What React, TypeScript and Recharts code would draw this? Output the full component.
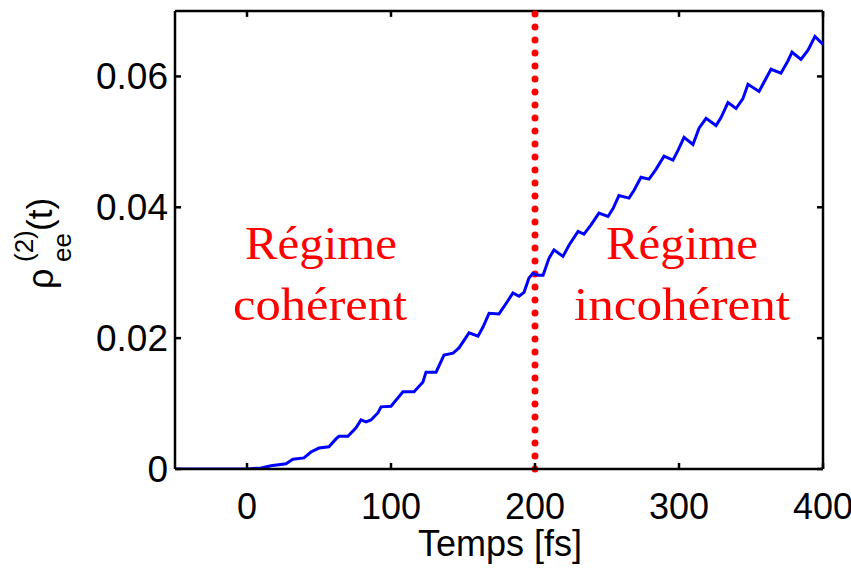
import { LineChart, Line, XAxis, YAxis, ReferenceLine, Customized } from 'recharts'

// temps (fs) et population rho_ee^(2)
const times = [
  -50, 0, 9.7, 16.7, 27.1, 31.9, 39.6, 44.4, 50, 56.9, 61.8, 63.9, 70.1, 75.7, 79.2, 82.6, 86.1,
  91, 93.1, 100, 108.3, 116, 122.2, 124.3, 131.3, 136.8, 143.1, 147.2, 154.2, 160.4, 163.9, 168.1,
  175, 179.9, 184.7, 188.9, 192.4, 195.8, 198.6, 202.1, 205.6, 209.7, 213.2, 219.4, 223.6, 229.9,
  234, 238.9, 244.4, 250.7, 254.2, 258.3, 265.3, 268.8, 273.6, 279.2, 284, 289.6, 295.8, 299.3,
  303.5, 309.7, 313.9, 318.8, 325.7, 329.2, 334, 339.6, 344.4, 347.9, 355.6, 359, 363.9, 370.8,
  375.7, 378.5, 384.7, 389.6, 394.4, 400,
]
const rho = [
  0, 0, 0.00015, 0.0005, 0.0008, 0.0015, 0.0017, 0.0026, 0.0032, 0.0034, 0.0046, 0.005, 0.005,
  0.0063, 0.0075, 0.0072, 0.0075, 0.0086, 0.0095, 0.0096, 0.0118, 0.0118, 0.0133, 0.0148, 0.0148,
  0.0174, 0.0177, 0.0185, 0.0208, 0.0203, 0.0217, 0.0238, 0.0237, 0.0253, 0.0269, 0.0264, 0.027,
  0.0292, 0.0299, 0.0296, 0.0296, 0.0322, 0.0335, 0.0325, 0.0342, 0.0363, 0.0359, 0.0373, 0.0391,
  0.0386, 0.0398, 0.0418, 0.0414, 0.0426, 0.0446, 0.0443, 0.0458, 0.0478, 0.0472, 0.0487, 0.0507,
  0.0496, 0.0521, 0.0536, 0.0525, 0.0537, 0.056, 0.0551, 0.0566, 0.0588, 0.0577, 0.0591, 0.0611,
  0.0605, 0.0624, 0.0637, 0.0626, 0.064, 0.0661, 0.0649,
]
const xTicks = [0, 100, 200, 300, 400]
const yTicks = [0, 0.02, 0.04, 0.06]
const yTickLabels = ['0', '0.02', '0.04', '0.06']
const regimeSplit = 200
const regimeLeft = ['Régime', 'cohérent']
const regimeRight = ['Régime', 'incohérent']

const X_MIN = -50
const X_MAX = 400
const Y_MAX = 0.07

const data = times.map((t, i) => ({ t, rho: rho[i] }))

const SANS = '"Liberation Sans", Arial, sans-serif'
const SERIF = '"Liberation Serif", "Times New Roman", serif'

// inward tick length (~6px) in data units
const TICK_DY = 0.0009
const TICK_DX = 4.2

const BottomTick = ({ x, y, payload }: any) => (
  <g>
    <line x1={x} y1={y} x2={x} y2={y - 6} stroke="#000" strokeWidth={2.5} />
    <text x={x} y={y + 50} textAnchor="middle" fontSize={36} fontFamily={SANS} fill="#000">
      {payload.value}
    </text>
  </g>
)

const LeftTick = ({ x, y, payload }: any) => (
  <g>
    <line x1={x} y1={y} x2={x + 6} y2={y} stroke="#000" strokeWidth={2.5} />
    <text x={x - 7} y={y + 13} textAnchor="end" fontSize={37} fontFamily={SANS} fill="#000">
      {yTickLabels[yTicks.indexOf(payload.value)]}
    </text>
  </g>
)

const Annotations = () => (
  <g>
    {/* y label: rho_ee^(2)(t), rotated */}
    <g transform="rotate(-90)" fontFamily={SANS} fill="#000">
      <text x={-289} y={53} fontSize={36}>ρ</text>
      <text x={-262} y={33} fontSize={26}>(2)</text>
      <text x={-262} y={71} fontSize={26}>ee</text>
      <text x={-231} y={52} fontSize={35}>(t)</text>
    </g>
    <text x={500} y={556} textAnchor="middle" fontSize={36} fontFamily={SANS} fill="#000">
      Temps [fs]
    </text>
    <g fontFamily={SERIF} fill="#ff0000" fontSize={46} textAnchor="middle">
      <text x={321} y={259} textLength={152} lengthAdjust="spacingAndGlyphs">{regimeLeft[0]}</text>
      <text x={320} y={320} textLength={174} lengthAdjust="spacingAndGlyphs">{regimeLeft[1]}</text>
      <text x={682} y={259} textLength={152} lengthAdjust="spacingAndGlyphs">{regimeRight[0]}</text>
      <text x={682} y={320} textLength={216} lengthAdjust="spacingAndGlyphs">{regimeRight[1]}</text>
    </g>
  </g>
)

export default function App() {
  return (
    <div style={{ position: 'absolute', left: 0, top: 0, background: '#fff' }}>
      <LineChart
        width={851}
        height={568}
        data={data}
        margin={{ top: 11, right: 28, left: 0, bottom: 0 }}
      >
        <XAxis
          dataKey="t"
          type="number"
          domain={[X_MIN, X_MAX]}
          ticks={xTicks}
          allowDataOverflow
          height={99}
          tickSize={0}
          tickMargin={0}
          tickLine={false}
          axisLine={{ stroke: '#000', strokeWidth: 2.5 }}
          tick={<BottomTick />}
        />
        <YAxis
          type="number"
          domain={[0, Y_MAX]}
          ticks={yTicks}
          allowDataOverflow
          width={175}
          tickSize={0}
          tickMargin={0}
          tickLine={false}
          axisLine={{ stroke: '#000', strokeWidth: 2.5 }}
          tick={<LeftTick />}
        />
        {/* box: top and right edges with inward ticks */}
        <ReferenceLine y={Y_MAX} stroke="#000" strokeWidth={2.5} />
        <ReferenceLine x={X_MAX} stroke="#000" strokeWidth={2.5} />
        {xTicks.map((t) => (
          <ReferenceLine
            key={`tx${t}`}
            segment={[{ x: t, y: Y_MAX }, { x: t, y: Y_MAX - TICK_DY }]}
            stroke="#000"
            strokeWidth={2.5}
          />
        ))}
        {yTicks.map((v) => (
          <ReferenceLine
            key={`ty${v}`}
            segment={[{ x: X_MAX, y: v }, { x: X_MAX - TICK_DX, y: v }]}
            stroke="#000"
            strokeWidth={2.5}
          />
        ))}
        <ReferenceLine
          x={regimeSplit}
          stroke="#ff0000"
          strokeWidth={7}
          strokeDasharray="0 13"
          strokeLinecap="round"
        />
        <Line
          type="linear"
          dataKey="rho"
          stroke="#0000ff"
          strokeWidth={3}
          dot={false}
          isAnimationActive={false}
        />
        <Customized component={Annotations} />
      </LineChart>
    </div>
  )
}
